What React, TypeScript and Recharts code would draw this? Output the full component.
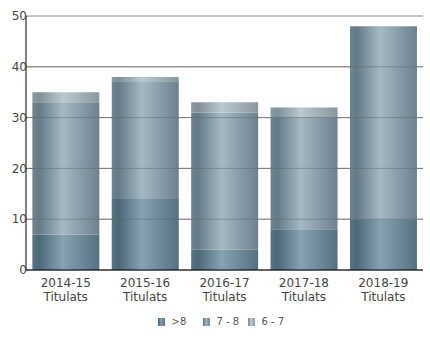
import { BarChart, Bar, XAxis, YAxis, CartesianGrid, Legend, ReferenceLine } from 'recharts'

const years = ['2014-15', '2015-16', '2016-17', '2017-18', '2018-19']
const over8 = [7, 14, 4, 8, 10]
const from7to8 = [26, 23, 27, 22, 38]
const from6to7 = [2, 1, 2, 2, 0]
const yTicks = [0, 10, 20, 30, 40, 50]

const series = [
  { key: 'over8', name: '>8', grad: 'g1', stops: ['#5a7482', '#4c6877', '#87a3b1', '#557080'] },
  { key: 'from7to8', name: '7 - 8', grad: 'g2', stops: ['#6f848f', '#647a86', '#a4b9c4', '#6c818d'] },
  { key: 'from6to7', name: '6 - 7', grad: 'g3', stops: ['#8b9ba2', '#7e9098', '#b9c9d0', '#87989f'] },
]

const data = years.map((y, i) => ({
  year: y,
  over8: over8[i],
  from7to8: from7to8[i],
  from6to7: from6to7[i],
}))

const font = 'DejaVu Sans, sans-serif'

function YearTick({ x, y, payload }: any) {
  return (
    <g transform={`translate(${x},${y})`}>
      <text textAnchor="middle" fill="#444" fontSize={12} fontFamily={font}>
        <tspan x={0} dy={9}>{payload.value}</tspan>
        <tspan x={0} dy={14}>Titulats</tspan>
      </text>
    </g>
  )
}

function LegendBox() {
  return (
    <div style={{ display: 'flex', justifyContent: 'center', fontFamily: font, fontSize: 10, color: '#555', paddingTop: 6, paddingLeft: 27 }}>
      {series.map((s) => (
        <span key={s.key} style={{ display: 'flex', alignItems: 'center', width: 45 }}>
          <span
            style={{
              display: 'inline-block',
              width: 7,
              height: 8,
              marginRight: 7,
              background: `linear-gradient(to right, ${s.stops[0]}, ${s.stops[1]} 10%, ${s.stops[2]} 45%, ${s.stops[3]})`,
            }}
          />
          {s.name}
        </span>
      ))}
    </div>
  )
}

export default function App() {
  return (
    <div style={{ position: 'absolute', left: 0, top: 0, width: 430, height: 348, background: '#fff' }}>
      <BarChart
        width={430}
        height={348}
        data={data}
        margin={{ top: 16, right: 7, left: 0, bottom: 8 }}
        barCategoryGap="8%"
      >
        <defs>
          {series.map((s) => (
            <linearGradient key={s.grad} id={s.grad} x1="0" y1="0" x2="1" y2="0">
              <stop offset="0%" stopColor={s.stops[0]} />
              <stop offset="10%" stopColor={s.stops[1]} />
              <stop offset="45%" stopColor={s.stops[2]} />
              <stop offset="100%" stopColor={s.stops[3]} />
            </linearGradient>
          ))}
        </defs>
        <CartesianGrid vertical={false} stroke="#8a8a8a" />
        <XAxis
          dataKey="year"
          tick={<YearTick />}
          tickLine={false}
          axisLine={{ stroke: '#000' }}
          height={40}
          interval={0}
        />
        <YAxis
          domain={[0, 50]}
          ticks={yTicks}
          width={26}
          tickLine={false}
          tickSize={0}
          axisLine={{ stroke: '#000' }}
          tick={{ fontSize: 12, fill: '#444', fontFamily: font, dx: 5 }}
          tickMargin={4}
        />
        <YAxis yAxisId="r" orientation="right" width={0} tick={false} tickLine={false} axisLine={{ stroke: '#999' }} />
        {series.map((s) => (
          <Bar key={s.key} dataKey={s.key} name={s.name} stackId="a" fill={`url(#${s.grad})`} isAnimationActive={false} />
        ))}
        {yTicks.slice(1, 5).map((t) => (
          <ReferenceLine key={t} y={t} stroke="#55636b" strokeOpacity={0.45} />
        ))}
        <Legend verticalAlign="bottom" height={30} content={<LegendBox />} />
      </BarChart>
    </div>
  )
}
